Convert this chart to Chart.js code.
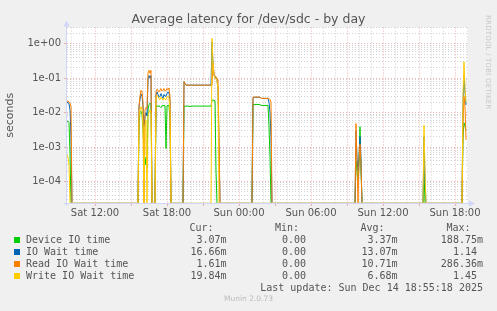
<!DOCTYPE html>
<html>
<head>
<meta charset="utf-8">
<script src="https://cdn.jsdelivr.net/npm/chart.js@4/dist/chart.umd.min.js"></script>
<style>
body { margin: 0; background: #f0f0f0; }
#wrap { position: relative; width: 497px; height: 311px; overflow: hidden;
        font-family: 'DejaVu Sans Mono', monospace; font-size: 10px; color: #555; }
#wrap canvas { position: absolute; left: 0; top: 0; }
.t { position: absolute; white-space: pre; line-height: 12px; }
.sw { position: absolute; width: 6px; height: 6px; }
#title { position: absolute; left: 0; width: 497px; top: 11px; text-align: center; line-height: 16px;
         font-family: 'DejaVu Sans', sans-serif; font-size: 12.5px; color: #555; }
#rrd { position: absolute; left: 484px; top: 15px; writing-mode: vertical-rl;
       font-family: 'DejaVu Sans', sans-serif; font-size: 7px; color: #c8c8c8; letter-spacing: 0.2px; }
#munin { position: absolute; left: 0; width: 497px; top: 294px; text-align: center;
         font-family: 'DejaVu Sans', sans-serif; font-size: 7.5px; color: #bbb; }
</style>
</head>
<body>
<div id="wrap">
  <canvas id="myChart" width="497" height="311"></canvas>
  <div id="title">Average latency for /dev/sdc - by day</div>
  <div id="rrd">RRDTOOL / TOBI OETIKER</div>
  <div id="munin">Munin 2.0.73</div>
</div>
<script>
// minutes since Sat 00:00, one sample = 5 min
const times = [
  580, 585, 590, 595, 600, 605,
  935, 940, 945, 950, 955, 960, 965, 970, 975, 980, 985, 990, 995, 1000, 1005,
  1020, 1025, 1030, 1035, 1040, 1045, 1050, 1055, 1060, 1065, 1070, 1075, 1080, 1085, 1090, 1095, 1100,
  1160, 1165, 1170, 1175, 1190, 1195, 1200, 1300, 1305, 1310, 1315, 1320, 1325, 1330, 1335, 1340, 1345,
  1505, 1510, 1515, 1545, 1550, 1585, 1590, 1595, 1600, 1605,
  2020, 2025, 2030, 2035, 2040, 2045, 2050, 2055,
  2360, 2365, 2370, 2375,
  2555, 2560, 2565, 2570, 2575
];
const deviceIO = [
  .0055, .0056, .0052, .0006, 0, 0,
  0, .005, .01, .011, .009, .003, .0008, .0003, .0005, .00025, .012, .017, .019, .017, 0,
  0, .014, .016, .015, .016, .015, .014, .016, .016, .016, .016, .0009, .016, .016, .016, .006, 0,
  0, .015, .0155, .0155, .0155, .0148, .0155, .0155, .023, .023, .023, .022, .0002, 0, 0, 0, 0,
  0, .017, .0173, .0173, .0162, .0162, .004, .0005, 0, 0,
  0, .0004, .0002, .0001, .0003, .0039, .0002, 0,
  0, .0002, 0, 0,
  0, .002, .005, .004, .00307
];
const ioWait = [
  .019, .02, .018, .012, .002, 0,
  0, .014, .025, .035, .03, .015, .004, .008, .01, .008, .1, .12, .1, .12, 0,
  0, .032, .04, .034, .028, .03, .036, .03, .026, .034, .03, .03, .036, .04, .038, .02, 0,
  0, .08, .07, .063, .063, .063, .063, .063, 1.14, .28, .12, .11, .1, .09, .05, .001, 0,
  0, .027, .028, .028, .026, .026, .02, .01, .002, 0,
  0, .003, .0005, .0002, .0005, .002, .0004, 0,
  0, .002, .0001, 0,
  0, .02, .12, .04, .01666
];
const readWait = [
  .021, .022, .02, .019, .015, 0,
  0, .016, .03, .045, .04, .02, 0, .012, .014, .013, .14, .17, .14, .17, 0,
  0, .04, .048, .045, .04, .045, .05, .042, .045, .05, .042, .045, .05, .046, .052, .03, 0,
  0, .08, .072, .063, .063, .063, .063, .063, .063, .28, .13, .12, .11, .1, .09, .002, 0,
  0, .028, .0285, .0285, .026, .026, .026, .024, .02, 0,
  0, .0048, .0003, 0, .0004, .0012, .0003, 0,
  0, 0, 0, 0,
  0, .005, .03, .015, .00161
];
const writeWait = [
  .0006, .0005, .0003, 0, 0, 0,
  0, .008, .012, .015, .012, .004, 0, .004, .006, 0, .008, .01, .012, .01, 0,
  0, .027, .032, .029, .025, .024, .028, .025, .023, .027, .024, .024, .029, .03, .026, .01, 0,
  0, 0, 0, 0, 0, 0, 0, 0, 1.45, .3, .12, .1, .1, .08, .05, 0, 0,
  0, 0, 0, 0, 0, 0, 0, 0, 0, 0,
  0, 0, 0, 0, 0, 0, 0, 0,
  0, .0043, .0002, 0,
  0, .03, .3, .05, .01984
];

const xTickMinutes = [720, 1080, 1440, 1800, 2160, 2520];
const xTickLabels = ['Sat 12:00', 'Sat 18:00', 'Sun 00:00', 'Sun 06:00', 'Sun 12:00', 'Sun 18:00'];
const yDecades = [1e-4, 1e-3, 1e-2, 1e-1, 1];
const yTickLabels = ['1e-04', '1e-03', '1e-02', '1e-01', '1e+00'];

const seriesNames = ['Device IO time', 'IO Wait time', 'Read IO Wait time', 'Write IO Wait time'];
const seriesColors = ['#00cc00', '#0066b3', '#ff8000', '#ffcc00'];
const curVals = ['3.07m', '16.66m', '1.61m', '19.84m'];
const minVals = ['0.00', '0.00', '0.00', '0.00'];
const avgVals = ['3.37m', '13.07m', '10.71m', '6.68m'];
const maxVals = ['188.75m', '1.14 ', '286.36m', '1.45 '];

const X_MIN = 580, X_MAX = 2585;
const Y_MIN = 2.35e-5, Y_MAX = 3.0;

const minorGrid = 'rgba(150,150,150,0.42)';
const majorGrid = 'rgba(225,100,100,0.5)';
const floorLine = '#ddcc9a';
const font = {family: 'DejaVu Sans', size: 10};

function isDecade(v) {
    return yDecades.some(d => Math.abs(v / d - 1) < 1e-6);
}

// zero can't sit on a log axis: like rrdtool, rest it on the floor of the plot
const series = [deviceIO, ioWait, readWait, writeWait];
const datasets = series.map((vals, i) => ({
    label: seriesNames[i],
    data: times.map((t, k) => ({x: t, y: vals[k] > 0 ? vals[k] : Y_MIN})),
    borderColor: seriesColors[i],
    segment: {
        borderColor: c => (c.p0.parsed.y <= Y_MIN && c.p1.parsed.y <= Y_MIN) ? floorLine : undefined
    },
    borderWidth: 1,
    pointRadius: 0,
    fill: false,
    tension: 0,
    order: 4 - i
}));

const framePlugin = {
    id: 'frame',
    beforeDraw(chart) {
        const {ctx, chartArea: a} = chart;
        ctx.save();
        ctx.fillStyle = '#ffffff';
        ctx.fillRect(a.left, a.top, a.right - a.left, a.bottom - a.top);
        ctx.restore();
    },
    beforeDatasetsDraw(chart) {
        const {ctx, chartArea: a} = chart;
        ctx.save();
        ctx.strokeStyle = '#cfd6f8';
        ctx.fillStyle = '#cfd6f8';
        ctx.lineWidth = 1;
        ctx.beginPath();
        ctx.moveTo(a.left - 0.5, a.bottom + 3);
        ctx.lineTo(a.left - 0.5, a.top - 3);
        ctx.moveTo(a.left - 3, a.bottom + 0.5);
        ctx.lineTo(a.right + 3, a.bottom + 0.5);
        ctx.stroke();
        ctx.beginPath();
        ctx.moveTo(a.left - 3.5, a.top - 1);
        ctx.lineTo(a.left + 2.5, a.top - 1);
        ctx.lineTo(a.left - 0.5, a.top - 7);
        ctx.fill();
        ctx.beginPath();
        ctx.moveTo(a.right + 1, a.bottom - 2.5);
        ctx.lineTo(a.right + 1, a.bottom + 3.5);
        ctx.lineTo(a.right + 7, a.bottom + 0.5);
        ctx.fill();
        ctx.restore();
    }
};

const chartSettings = {
    type: 'line',
    data: {datasets: datasets},
    options: {
        responsive: false,
        animation: false,
        devicePixelRatio: 1,
        layout: {padding: {left: 0, right: 29, top: 27.5, bottom: 0}},
        plugins: {
            legend: {display: false},
            tooltip: {enabled: false}
        },
        scales: {
            x: {
                type: 'linear',
                min: X_MIN,
                max: X_MAX,
                afterBuildTicks: s => {
                    const t = [];
                    for (let m = 600; m <= X_MAX; m += 60) t.push({value: m});
                    s.ticks = t;
                },
                afterFit: s => { s.height = 108; },
                ticks: {
                    autoSkip: false,
                    maxRotation: 0,
                    color: '#555',
                    font: font,
                    padding: 1,
                    callback: v => {
                        const i = xTickMinutes.indexOf(v);
                        return i >= 0 ? xTickLabels[i] : '';
                    }
                },
                grid: {
                    color: c => (c.tick && c.tick.value % 180 === 0) ? majorGrid : minorGrid,
                    tickColor: c => (c.tick && c.tick.value % 180 === 0) ? majorGrid : 'rgba(0,0,0,0)',
                    tickLength: 3,
                    tickBorderDash: []
                },
                border: {display: false, dash: [1, 2]}
            },
            y: {
                type: 'logarithmic',
                min: Y_MIN,
                max: Y_MAX,
                afterBuildTicks: s => {
                    const t = [];
                    for (let e = -5; e <= 0; e++) {
                        for (let k = 1; k <= 9; k++) {
                            const v = k * Math.pow(10, e);
                            if (v >= Y_MIN && v <= Y_MAX) t.push({value: v});
                        }
                    }
                    s.ticks = t;
                },
                afterFit: s => { s.width = 67; },
                title: {
                    display: true,
                    text: 'seconds',
                    color: '#555',
                    font: {family: 'DejaVu Sans', size: 11},
                    padding: {top: 4, bottom: 0}
                },
                ticks: {
                    autoSkip: false,
                    color: '#555',
                    font: font,
                    padding: 3,
                    callback: v => {
                        const i = yDecades.findIndex(d => Math.abs(v / d - 1) < 1e-6);
                        return i >= 0 ? yTickLabels[i] : '';
                    }
                },
                grid: {
                    color: c => (c.tick && isDecade(c.tick.value)) ? majorGrid : minorGrid,
                    tickColor: c => (c.tick && isDecade(c.tick.value)) ? majorGrid : 'rgba(0,0,0,0)',
                    tickLength: 3,
                    tickBorderDash: []
                },
                border: {display: false, dash: [1, 2]}
            }
        }
    },
    plugins: [framePlugin]
};

function addText(text, x, yc, alignRight) {
    const d = document.createElement('div');
    d.className = 't';
    d.textContent = text;
    d.style.top = (yc - 6) + 'px';
    if (alignRight) d.style.right = (497 - x) + 'px';
    else d.style.left = x + 'px';
    document.getElementById('wrap').appendChild(d);
}

function buildLegend() {
    const wrap = document.getElementById('wrap');
    addText('Cur:', 213.5, 227.7, true);
    addText('Min:', 299, 227.7, true);
    addText('Avg:', 384.5, 227.7, true);
    addText('Max:', 470.5, 227.7, true);
    const rowY = [240, 251.9, 263.8, 275.7];
    seriesNames.forEach((name, i) => {
        const sw = document.createElement('div');
        sw.className = 'sw';
        sw.style.left = '14px';
        sw.style.top = (rowY[i] - 3) + 'px';
        sw.style.background = seriesColors[i];
        wrap.appendChild(sw);
        addText(name, 26, rowY[i], false);
        addText(curVals[i], 226.5, rowY[i], true);
        addText(minVals[i], 306, rowY[i], true);
        addText(avgVals[i], 397.5, rowY[i], true);
        addText(maxVals[i], 483, rowY[i], true);
    });
    addText('Last update: Sun Dec 14 18:55:18 2025', 483, 287.7, true);
}

window.onload = function() {
    const ctx = document.getElementById('myChart').getContext('2d');
    new Chart(ctx, chartSettings);
    buildLegend();
};
</script>
</body>
</html>
